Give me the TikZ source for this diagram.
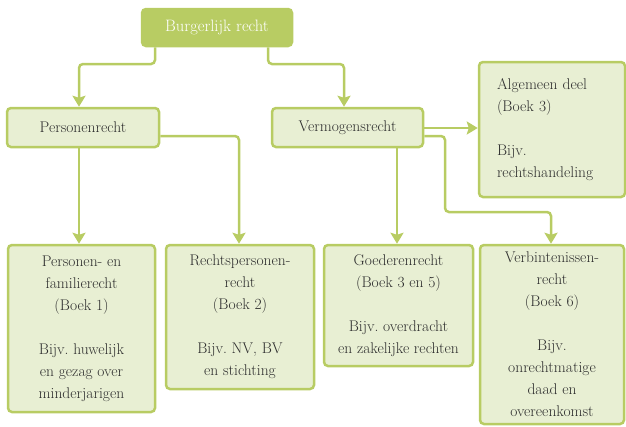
\documentclass[tikz,border=0pt]{standalone}
\usetikzlibrary{arrows.meta}
\definecolor{gdark}{HTML}{B8CC63}
\definecolor{glight}{HTML}{E8EFD3}
\definecolor{txt}{HTML}{2E2E2E}
\frenchspacing
\tikzset{
  box/.style={draw=gdark, line width=2.5pt, fill=glight, rounded corners=4pt,
    inner sep=0pt, align=center, text=txt, font=\fontsize{15.5}{22}\selectfont},
  topbox/.style={box, fill=gdark, text=white, font=\fontsize{16.5}{22}\selectfont},
  conn/.style={draw=gdark, line width=2.5pt, rounded corners=4pt,
    -{Stealth[length=11pt,width=13pt,inset=2pt]}}
}
\begin{document}
\begin{tikzpicture}[x=1pt,y=-1pt]
\useasboundingbox (0,0) rectangle (626,426);
\node[topbox, minimum width=150pt, minimum height=37pt] (burg) at (217,27.5) {Burgerlijk recht};
\node[box, minimum width=152pt, minimum height=39pt] (pers) at (83,127.5) {Personenrecht};
\node[box, minimum width=151pt, minimum height=39pt] (verm) at (347.5,127.5) {Vermogensrecht};
\node[box, minimum width=146pt, minimum height=135pt, align=left, text width=110pt] (alg) at (552,129.5)
  {Algemeen deel\\(Boek 3)\\[22pt]Bijv.\\rechtshandeling};
\node[box, minimum width=147pt, minimum height=167pt] (b1) at (81.5,328.5)
  {Personen- en\\familierecht\\(Boek 1)\\[22pt]Bijv. huwelijk\\en gezag over\\minderjarigen};
\node[box, minimum width=148pt, minimum height=144pt] (b2) at (240,317)
  {Rechtspersonen-\\recht\\(Boek 2)\\[22pt]Bijv. NV, BV\\en stichting};
\node[box, minimum width=149pt, minimum height=121pt] (b3) at (398.5,305.5)
  {Goederenrecht\\(Boek 3 en 5)\\[22pt]Bijv. overdracht\\en zakelijke rechten};
\node[box, minimum width=144pt, minimum height=179pt] (b4) at (552,334.5)
  {Verbintenissen-\\recht\\(Boek 6)\\[22pt]Bijv.\\onrechtmatige\\daad en\\overeenkomst};
\draw[conn] (burg.south -| 155,0) |- (117,64) -| (pers.north -| 79,0);
\draw[conn] (burg.south -| 268,0) |- (306,64) -| (verm.north -| 344,0);
\draw[conn] (pers.south -| 79,0) -- (b1.north -| 79,0);
\draw[conn] (pers.east |- 0,136) -| (b2.north -| 239,0);
\draw[conn] (verm.south -| 397,0) -- (b3.north -| 397,0);
\draw[conn] (verm.east |- 0,128) -- (alg.west |- 0,128);
\draw[conn] (verm.east |- 0,136) -| (445,212) -| (b4.north -| 551,0);
\end{tikzpicture}
\end{document}
